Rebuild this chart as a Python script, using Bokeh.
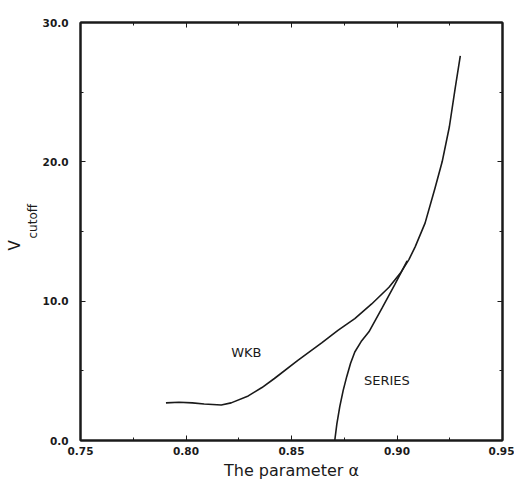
import math
from bokeh.plotting import figure
from bokeh.models import Range1d, LinearAxis, FixedTicker, Label, Title
from bokeh.embed import file_html
from bokeh.resources import INLINE

# WKB curve (alpha, V_cutoff)
wkb_alpha = [0.7905, 0.7967, 0.8030, 0.8086, 0.8167, 0.8214, 0.8295, 0.8360,
             0.8419, 0.8530, 0.8643, 0.8720, 0.8800, 0.8880, 0.8962, 0.9020,
             0.9057, 0.9086, 0.9133, 0.9180, 0.9214, 0.9248, 0.9276, 0.9300]
wkb_v = [2.7, 2.75, 2.7, 2.62, 2.55, 2.7, 3.2, 3.8,
         4.45, 5.75, 7.0, 7.9, 8.75, 9.8, 11.0, 12.1,
         13.0, 13.9, 15.6, 18.1, 20.0, 22.5, 25.3, 27.6]

# Series curve
ser_alpha = [0.8705, 0.8715, 0.8729, 0.8745, 0.8762, 0.8780, 0.8800, 0.8830,
             0.8867, 0.8929, 0.8990, 0.9048]
ser_v = [0.0, 1.2, 2.45, 3.6, 4.6, 5.55, 6.35, 7.1,
         7.8, 9.5, 11.2, 12.9]

x_ticks = [0.75, 0.80, 0.85, 0.90, 0.95]
x_labels = ["0.75", "0.80", "0.85", "0.90", "0.95"]
y_ticks = [0, 10, 20, 30]
y_labels = ["0.0", "10.0", "20.0", "30.0"]

ink = "#1a1a1a"
font = "DejaVu Sans"

p = figure(width=514, height=487, output_backend="svg", toolbar_location=None,
           x_range=Range1d(0.75, 0.95), y_range=Range1d(0, 30),
           min_border_left=80, min_border_right=12, min_border_top=22,
           min_border_bottom=47, background_fill_color="white",
           border_fill_color="white")
p.grid.visible = False
p.outline_line_color = ink
p.outline_line_width = 2

def style(ax, labels=True):
    ax.axis_line_color = ink
    ax.axis_line_width = 2
    ax.major_tick_in = 5
    ax.major_tick_out = 0
    ax.minor_tick_in = 3
    ax.minor_tick_out = 0
    ax.major_tick_line_color = ink
    ax.minor_tick_line_color = ink
    ax.major_label_text_font = font
    ax.major_label_text_font_size = "10.5px"
    ax.major_label_text_font_style = "bold"
    ax.major_label_text_color = ink if labels else None

xt = FixedTicker(ticks=x_ticks, minor_ticks=[0.775, 0.825, 0.875, 0.925])
yt = FixedTicker(ticks=y_ticks, minor_ticks=[5, 15, 25])

p.xaxis.ticker = xt
p.yaxis.ticker = yt
p.xaxis.major_label_overrides = dict(zip(x_ticks, x_labels))
p.yaxis.major_label_overrides = dict(zip(y_ticks, y_labels))
style(p.xaxis[0])
style(p.yaxis[0])
p.xaxis.major_label_standoff = 6
p.yaxis.major_label_standoff = 12
p.xaxis.axis_label = "The parameter \u03b1"
p.xaxis.axis_label_text_font = font
p.xaxis.axis_label_text_font_size = "16px"
p.xaxis.axis_label_text_font_style = "normal"
p.xaxis.axis_label_text_color = ink
p.xaxis.axis_label_standoff = 3

top = LinearAxis(ticker=xt)
style(top, labels=False)
top.major_label_standoff = 0
p.add_layout(top, "above")
right = LinearAxis(ticker=yt)
style(right, labels=False)
right.major_label_standoff = 0
p.add_layout(right, "right")

p.line(wkb_alpha, wkb_v, line_color=ink, line_width=1.6)
p.line(ser_alpha, ser_v, line_color=ink, line_width=1.6)

p.add_layout(Label(x=0.8286, y=6.35, text="WKB", text_align="center",
                   text_baseline="middle", text_font=font,
                   text_font_size="13px", text_color=ink))
p.add_layout(Label(x=0.8952, y=4.3, text="SERIES", text_align="center",
                   text_baseline="middle", text_font=font,
                   text_font_size="13px", text_color=ink))

# y-axis label V_cutoff built from two side titles
t_sub = Title(text="cutoff", align="left", offset=202, text_font=font,
              text_font_size="12px", text_font_style="normal",
              text_color=ink, standoff=0)
t_v = Title(text="V", align="left", offset=190, text_font=font,
            text_font_size="15px", text_font_style="normal",
            text_color=ink, standoff=0)
p.add_layout(t_sub, "left")
p.add_layout(t_v, "left")

open("out.html", "w").write(file_html(p, INLINE))
